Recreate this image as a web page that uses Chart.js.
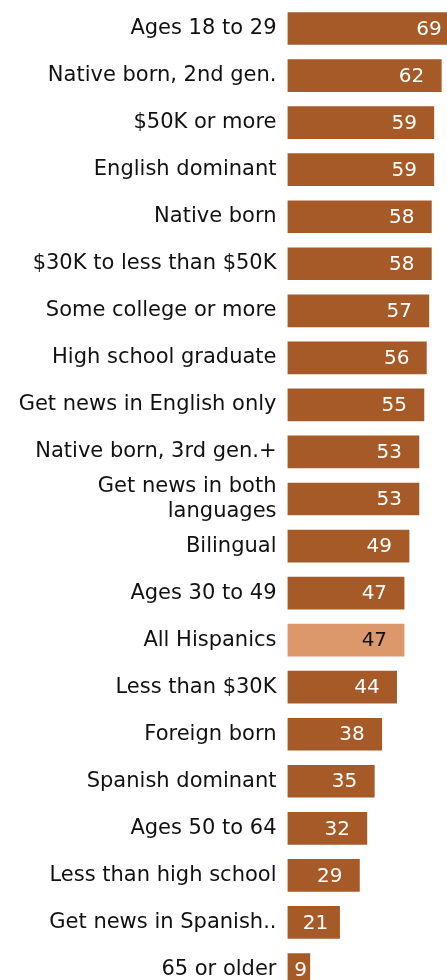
<!DOCTYPE html>
<html>
<head>
<meta charset="utf-8">
<script src="https://cdn.jsdelivr.net/npm/chart.js@4"></script>
<style>
  html, body { margin: 0; padding: 0; background: #fff; overflow: hidden; }
  #wrap { position: relative; width: 447px; height: 995px; }
</style>
</head>
<body>
<div id="wrap"><canvas id="bars"></canvas></div>
<script>
const groups = [
  'Ages 18 to 29', 'Native born, 2nd gen.', '$50K or more', 'English dominant', 'Native born',
  '$30K to less than $50K', 'Some college or more', 'High school graduate', 'Get news in English only',
  'Native born, 3rd gen.+', ['Get news in both', 'languages'], 'Bilingual', 'Ages 30 to 49',
  'All Hispanics', 'Less than $30K', 'Foreign born', 'Spanish dominant', 'Ages 50 to 64',
  'Less than high school', 'Get news in Spanish..', '65 or older',
];
const shares = [69, 62, 59, 59, 58, 58, 57, 56, 55, 53, 53, 49, 47, 47, 44, 38, 35, 32, 29, 21, 9];
const highlight = 'All Hispanics';

const DARK = '#a65a28';
const LIGHT = '#dc976a';
const FONT = "'DejaVu Sans', Verdana, sans-serif";

const barColors = groups.map((g) => (g === highlight ? LIGHT : DARK));
const textColors = groups.map((g) => (g === highlight ? '#111' : '#fff'));

// value labels: right aligned inside the bar end, centred on short bars
const valueLabels = {
  id: 'valueLabels',
  afterDatasetsDraw(chart) {
    const { ctx } = chart;
    const meta = chart.getDatasetMeta(0);
    ctx.save();
    ctx.font = `20px ${FONT}`;
    ctx.textBaseline = 'middle';
    meta.data.forEach((bar, i) => {
      ctx.fillStyle = textColors[i];
      if (bar.x - bar.base < 60) {
        ctx.textAlign = 'center';
        ctx.fillText(String(shares[i]), (bar.x + bar.base) / 2 + 2, bar.y + 1);
      } else {
        ctx.textAlign = 'right';
        ctx.fillText(String(shares[i]), bar.x - 17, bar.y + 1);
      }
    });
    ctx.restore();
  },
};

new Chart(document.getElementById('bars'), {
  type: 'bar',
  data: {
    labels: groups,
    datasets: [{ data: shares, backgroundColor: barColors, barThickness: 32 }],
  },
  options: {
    indexAxis: 'y',
    responsive: true,
    maintainAspectRatio: false,
    animation: false,
    layout: { padding: { top: 5, bottom: 2, left: 0, right: 0 } },
    plugins: { legend: { display: false }, tooltip: { enabled: false } },
    scales: {
      x: { min: 0, max: 64.3, display: false },
      y: {
        grid: { display: false, drawTicks: false },
        border: { display: false },
        afterFit: (scale) => {
          scale.width = 287.5;
          scale.paddingTop = 0;
          scale.paddingBottom = 0;
        },
        ticks: {
          autoSkip: false,
          color: '#111',
          padding: 11,
          font: { family: FONT, size: 21, lineHeight: 1.15 },
        },
      },
    },
  },
  plugins: [valueLabels],
});
</script>
</body>
</html>
